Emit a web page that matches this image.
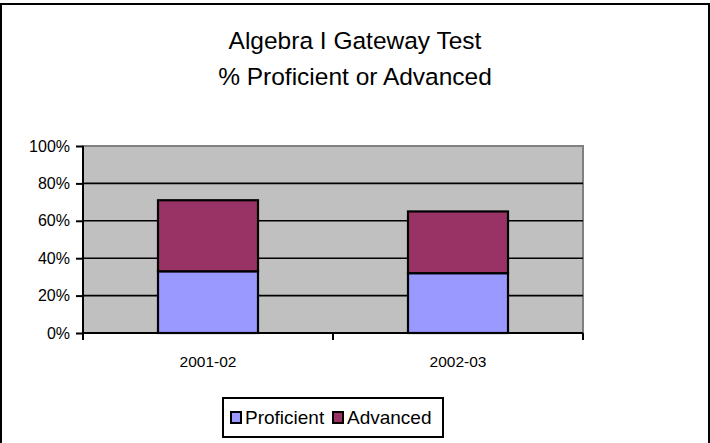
<!DOCTYPE html>
<html>
<head>
<meta charset="utf-8">
<script src="https://cdn.jsdelivr.net/npm/d3@7"></script>
<style>
  body { margin: 0; background: #fff; }
  svg text { font-family: 'Liberation Sans', Arial, sans-serif; fill: #000; }
</style>
</head>
<body>
<div id="chart"></div>
<script>
const years = ['2001-02', '2002-03'];
const proficient = [33, 32];
const advanced = [38, 33];
const seriesNames = ['Proficient', 'Advanced'];
const seriesColors = ['#9999ff', '#993366'];
const yTicks = [0, 20, 40, 60, 80, 100];
const titleLines = ['Algebra I Gateway Test', '% Proficient or Advanced'];

function drawChart() {
  const width = 710,
    height = 443,
    plot = { left: 83, right: 583, top: 146, bottom: 333 };

  const rows = years.map((y, i) => ({
    year: y,
    Proficient: proficient[i],
    Advanced: advanced[i],
  }));
  const stacked = d3.stack().keys(seriesNames)(rows);

  const xScale = d3
    .scaleBand()
    .domain(years)
    .range([plot.left, plot.right])
    .paddingInner(0.6)
    .paddingOuter(0.3);

  const xEdges = d3
    .scaleLinear()
    .domain([0, years.length])
    .range([plot.left, plot.right]);

  const yScale = d3
    .scaleLinear()
    .domain([0, 100])
    .range([plot.bottom, plot.top]);

  const svg = d3
    .select('#chart')
    .append('svg')
    .attr('width', width)
    .attr('height', height);

  // outer frame
  svg
    .append('rect')
    .attr('x', 1)
    .attr('y', 4)
    .attr('width', 708)
    .attr('height', 460)
    .attr('fill', 'none')
    .attr('stroke', '#000')
    .attr('stroke-width', 2);

  // title
  svg
    .selectAll('.title')
    .data(titleLines)
    .enter()
    .append('text')
    .attr('class', 'title')
    .attr('x', 355)
    .attr('y', (d, i) => 49 + i * 36)
    .attr('text-anchor', 'middle')
    .style('font-size', '24.5px')
    .text((d) => d);

  // plot background
  svg
    .append('rect')
    .attr('x', plot.left)
    .attr('y', plot.top)
    .attr('width', plot.right - plot.left)
    .attr('height', plot.bottom - plot.top)
    .attr('fill', '#c0c0c0')
    .attr('stroke', '#808080')
    .attr('stroke-width', 2);

  // gridlines
  svg
    .selectAll('.grid')
    .data(yTicks.filter((t) => t > 0 && t < 100))
    .enter()
    .append('line')
    .attr('class', 'grid')
    .attr('x1', plot.left)
    .attr('x2', plot.right)
    .attr('y1', (d) => yScale(d))
    .attr('y2', (d) => yScale(d))
    .attr('stroke', '#000')
    .attr('stroke-width', 1.6);

  // bars
  svg
    .selectAll('.series')
    .data(stacked)
    .enter()
    .append('g')
    .attr('class', 'series')
    .attr('fill', (d, i) => seriesColors[i])
    .selectAll('rect')
    .data((d) => d)
    .enter()
    .append('rect')
    .attr('x', (d) => xScale(d.data.year))
    .attr('y', (d) => yScale(d[1]))
    .attr('width', xScale.bandwidth())
    .attr('height', (d) => yScale(d[0]) - yScale(d[1]))
    .attr('stroke', '#000')
    .attr('stroke-width', 2.2);

  // y axis
  const yAxis = svg
    .append('g')
    .attr('transform', `translate(${plot.left}, 0)`)
    .call(
      d3
        .axisLeft(yScale)
        .tickValues(yTicks)
        .tickSize(7)
        .tickPadding(6)
        .tickFormat((d) => `${d}%`)
    );
  yAxis.selectAll('path, line').attr('stroke', '#000').attr('stroke-width', 2);
  yAxis.select('.domain').attr('d', `M0,${plot.top}V${plot.bottom + 7}`);
  yAxis.selectAll('text').style('font-size', '16px').style('font-family', null);

  // x axis
  const xAxis = svg
    .append('g')
    .attr('transform', `translate(0, ${plot.bottom})`);
  xAxis
    .append('line')
    .attr('x1', plot.left)
    .attr('x2', plot.right)
    .attr('stroke', '#000')
    .attr('stroke-width', 2);
  xAxis
    .selectAll('.xtick')
    .data(d3.range(years.length + 1))
    .enter()
    .append('line')
    .attr('class', 'xtick')
    .attr('x1', (d) => xEdges(d))
    .attr('x2', (d) => xEdges(d))
    .attr('y1', 0)
    .attr('y2', 7)
    .attr('stroke', '#000')
    .attr('stroke-width', 2);
  xAxis
    .selectAll('.xlabel')
    .data(years)
    .enter()
    .append('text')
    .attr('class', 'xlabel')
    .attr('x', (d) => xScale(d) + xScale.bandwidth() / 2)
    .attr('y', 34)
    .attr('text-anchor', 'middle')
    .style('font-size', '15.5px')
    .text((d) => d);

  // legend
  const legend = svg.append('g').attr('transform', 'translate(223, 398)');
  legend
    .append('rect')
    .attr('width', 220)
    .attr('height', 39)
    .attr('fill', '#fff')
    .attr('stroke', '#000')
    .attr('stroke-width', 2);
  const items = legend
    .selectAll('.item')
    .data(seriesNames)
    .enter()
    .append('g')
    .attr('class', 'item')
    .attr('transform', (d, i) => `translate(${8 + i * 102}, 0)`);
  items
    .append('rect')
    .attr('y', 14)
    .attr('width', 10)
    .attr('height', 11)
    .attr('fill', (d, i) => seriesColors[i])
    .attr('stroke', '#000')
    .attr('stroke-width', 2);
  items
    .append('text')
    .attr('x', 14)
    .attr('y', 26)
    .style('font-size', '19px')
    .text((d) => d);
}

drawChart();
</script>
</body>
</html>
